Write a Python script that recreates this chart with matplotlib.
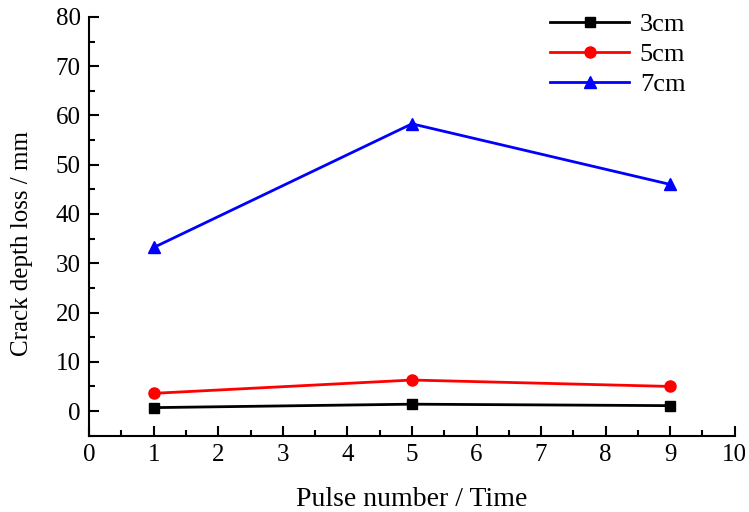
import matplotlib
matplotlib.use("Agg")
import matplotlib.pyplot as plt
from matplotlib.ticker import MultipleLocator

plt.rcParams['font.family'] = ['Liberation Serif', 'DejaVu Serif']

pulse = [1, 5, 9]
depth_3cm = [0.7, 1.4, 1.1]
depth_5cm = [3.6, 6.3, 5.0]
depth_7cm = [33.2, 58.3, 46.0]

fig = plt.figure(figsize=(7.49, 5.12), dpi=100)
ax = fig.add_axes([0.119, 0.149, 0.862, 0.818])

ax.plot(pulse, depth_3cm, color="black", lw=2, marker="s", ms=7, label="3cm")
ax.plot(pulse, depth_5cm, color="red", lw=2, marker="o", ms=8, label="5cm")
ax.plot(pulse, depth_7cm, color="blue", lw=2, marker="^", ms=8, label="7cm")

ax.set_xlim(0, 10)
ax.set_ylim(-5, 80)
ax.xaxis.set_major_locator(MultipleLocator(1))
ax.xaxis.set_minor_locator(MultipleLocator(0.5))
ax.yaxis.set_major_locator(MultipleLocator(10))
ax.yaxis.set_minor_locator(MultipleLocator(5))

ax.spines['top'].set_visible(False)
ax.spines['right'].set_visible(False)
ax.spines['left'].set_linewidth(1.5)
ax.spines['bottom'].set_linewidth(1.5)
ax.tick_params(which="major", direction="in", length=7, width=1.5, labelsize=18, pad=6)
ax.tick_params(which="minor", direction="in", length=4, width=1.5)

ax.set_xlabel("Pulse number / Time", fontsize=20, labelpad=15)
ax.set_ylabel("Crack depth loss / mm", fontsize=18)
ax.yaxis.set_label_coords(-0.087, 0.46)

ax.legend(loc="upper right", frameon=False, fontsize=19, handlelength=3.0,
          handletextpad=0.4, borderaxespad=0.0, labelspacing=0.25,
          bbox_to_anchor=(0.94, 1.035))

fig.savefig("out.png", dpi=100)
